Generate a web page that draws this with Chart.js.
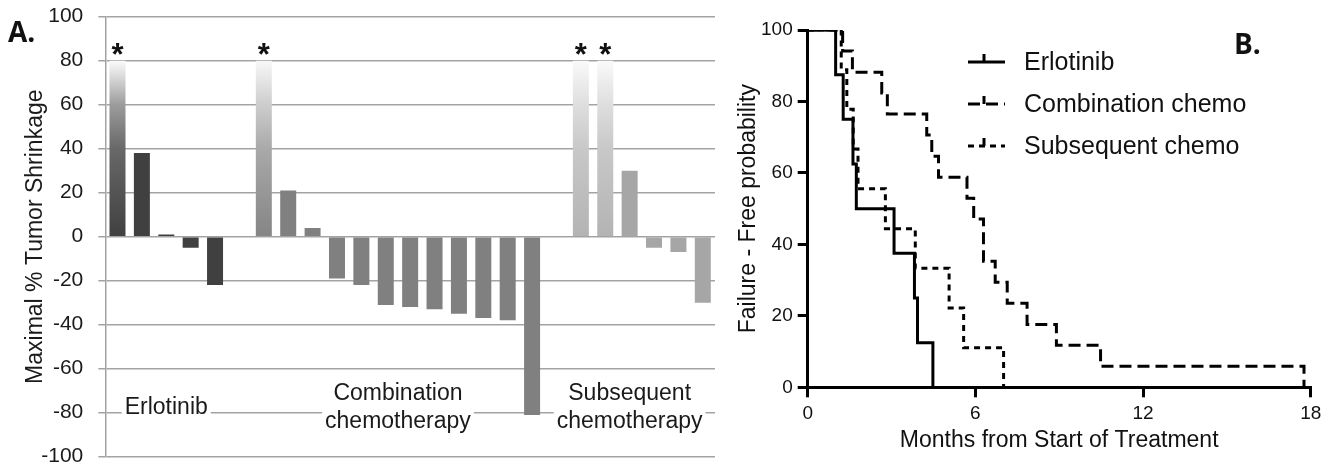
<!DOCTYPE html>
<html>
<head>
<meta charset="utf-8">
<script src="https://cdn.jsdelivr.net/npm/chart.js@4.4.1/dist/chart.umd.min.js"></script>
<style>
  body { margin: 0; background: #fff; }
  #wrap { position: relative; width: 1340px; height: 471px; overflow: hidden; }
  #waterfall { position: absolute; left: 0; top: 0; }
  #survival { position: absolute; left: 720px; top: 0; }
</style>
</head>
<body>
<div id="wrap">
  <canvas id="waterfall" width="720" height="471"></canvas>
  <canvas id="survival" width="620" height="471"></canvas>
</div>
<script>
// ---- Panel A: maximal % tumor shrinkage per patient ----
var erlotinibShrinkage = [80, 38, 1, -5, -22];
var erlotinibStars = [true, false, false, false, false];
var combinationShrinkage = [80, 21, 4, -19, -22, -31, -32, -33, -35, -37, -38, -81];
var combinationStars = [true, false, false, false, false, false, false, false, false, false, false, false];
var subsequentShrinkage = [80, 80, 30, -5, -7, -30];
var subsequentStars = [true, true, false, false, false, false];
var groupNames = [['Erlotinib'], ['Combination', 'chemotherapy'], ['Subsequent', 'chemotherapy']];
var shrinkTicks = [-100, -80, -60, -40, -20, 0, 20, 40, 60, 80, 100];

// ---- Panel B: failure-free probability ----
var monthTicks = [0, 6, 12, 18];
var probTicks = [0, 20, 40, 60, 80, 100];
var erlotinibMonths = [0, 1.0, 1.27, 1.62, 1.74, 3.09, 3.82, 3.93, 4.48];
var erlotinibFree = [100, 87.5, 75, 62.5, 50, 37.5, 25, 12.5, 0];
var combinationMonths = [0, 1.25, 1.6, 2.65, 2.85, 4.26, 4.44, 4.68, 5.7, 5.94, 6.29, 6.71, 7.14, 7.85, 8.9, 10.48, 17.76];
var combinationFree = [100, 94.1, 88.2, 82.4, 76.5, 70.6, 64.7, 58.8, 52.9, 47.1, 35.3, 29.4, 23.5, 17.6, 11.8, 5.9, 0];
var subsequentMonths = [0, 1.2, 1.4, 1.63, 1.8, 2.78, 3.85, 5.06, 5.58, 7.01];
var subsequentFree = [100, 88.9, 77.8, 66.7, 55.6, 44.4, 33.3, 22.2, 11.1, 0];
var survivalLabels = ['Erlotinib', 'Combination chemo', 'Subsequent chemo'];

var FONT = "'Liberation Sans', Arial, sans-serif";

// one empty slot between groups
var barValues = [], barGroup = [], barStar = [];
[[erlotinibShrinkage, erlotinibStars], [combinationShrinkage, combinationStars], [subsequentShrinkage, subsequentStars]]
  .forEach(function (g, gi) {
    if (gi > 0) { barValues.push(null); barGroup.push(-1); barStar.push(false); }
    g[0].forEach(function (v, k) {
      barValues.push(v); barGroup.push(gi); barStar.push(g[1][k]);
    });
  });
var barLabels = barValues.map(function (v, i) { return 'P' + (i + 1); });

var solidColors = ['#404040', '#808080', '#a6a6a6'];
var fadeStops = [
  [[0, '#404040'], [0.5, '#686868'], [0.75, '#9c9c9c'], [0.9, '#d6d6d6'], [1, '#fbfbfb']],
  [[0, '#858585'], [0.5, '#a9a9a9'], [0.75, '#cdcdcd'], [1, '#f8f8f8']],
  [[0, '#b3b3b3'], [0.5, '#c8c8c8'], [0.75, '#dedede'], [1, '#fafafa']]
];

function barFill(c) {
  var i = c.dataIndex, g = barGroup[i];
  if (g < 0) return '#fff';
  if (!barStar[i] || !c.chart.chartArea) return solidColors[g];
  var y = c.chart.scales.y;
  var grad = c.chart.ctx.createLinearGradient(0, y.getPixelForValue(0), 0, y.getPixelForValue(barValues[i]));
  fadeStops[g].forEach(function (s) { grad.addColorStop(s[0], s[1]); });
  return grad;
}

var waterfallDecor = {
  id: 'waterfallDecor',
  beforeDatasetsDraw: function (chart) {
    // group names sit on white boxes that cut the gridlines
    var ctx = chart.ctx, x = chart.scales.x, y = chart.scales.y;
    var anchors = [2, 11.5, 21];
    ctx.save();
    ctx.font = '23px ' + FONT;
    ctx.textAlign = 'center';
    ctx.textBaseline = 'middle';
    groupNames.forEach(function (lines, gi) {
      var cx = x.getPixelForValue(anchors[gi]);
      var cy = y.getPixelForValue(-77.5);
      lines.forEach(function (t, li) {
        var ly = cy + (li - (lines.length - 1) / 2) * 28;
        var w = ctx.measureText(t).width;
        ctx.fillStyle = '#fff';
        ctx.fillRect(cx - w / 2 - 3, ly - 13, w + 6, 26);
        ctx.fillStyle = '#1a1a1a';
        ctx.fillText(t, cx, ly);
      });
    });
    ctx.restore();
  },
  afterDatasetsDraw: function (chart) {
    var ctx = chart.ctx, meta = chart.getDatasetMeta(0);
    ctx.save();
    ctx.font = 'bold 31px ' + FONT;
    ctx.textAlign = 'center';
    ctx.textBaseline = 'alphabetic';
    ctx.fillStyle = '#111';
    barStar.forEach(function (s, i) {
      if (!s) return;
      var bar = meta.data[i];
      ctx.fillText('*', bar.x, bar.y + 4);
    });
    ctx.font = "bold 28px 'Open Sans', " + FONT;
    ctx.textAlign = 'left';
    ctx.textBaseline = 'middle';
    ctx.fillText('A.', 8, 34);
    ctx.restore();
  }
};

new Chart(document.getElementById('waterfall'), {
  type: 'bar',
  data: {
    labels: barLabels,
    datasets: [{
      label: 'Maximal % Tumor Shrinkage',
      data: barValues,
      backgroundColor: barFill,
      borderWidth: 0,
      barPercentage: 0.656,
      categoryPercentage: 1
    }]
  },
  options: {
    responsive: false,
    animation: false,
    layout: { padding: { top: 16.7, right: 5, bottom: 14.3, left: 0 } },
    plugins: { legend: { display: false }, tooltip: { enabled: false } },
    scales: {
      x: { display: false },
      y: {
        min: -100, max: 100,
        afterBuildTicks: function (s) { s.ticks = shrinkTicks.map(function (v) { return { value: v }; }); },
        afterFit: function (s) { s.width = 105.3; s.paddingTop = 0; s.paddingBottom = 0; },
        grid: { color: '#a3a3a3', lineWidth: 1.5, tickLength: 7 },
        border: { color: '#a3a3a3', width: 1.5 },
        ticks: { color: '#1a1a1a', font: { family: FONT, size: 21 }, padding: 15 },
        title: {
          display: true, text: 'Maximal % Tumor Shrinkage', color: '#1a1a1a',
          font: { family: FONT, size: 23 }, padding: { top: 22, bottom: 0 }
        }
      }
    }
  },
  plugins: [waterfallDecor]
});

// ---- Panel B ----
function steps(xs, ys) {
  return xs.map(function (t, i) { return { x: t, y: ys[i] }; });
}

var survivalDash = [[], [12, 6], [6, 5]];

var survivalLegend = {
  id: 'survivalLegend',
  afterDraw: function (chart) {
    var ctx = chart.ctx;
    ctx.save();
    chart.data.datasets.forEach(function (ds, i) {
      var ry = 62 + i * 42;
      ctx.strokeStyle = '#000';
      ctx.lineWidth = 3;
      ctx.setLineDash(ds.borderDash);
      ctx.beginPath();
      ctx.moveTo(248, ry);
      ctx.lineTo(285, ry);
      ctx.stroke();
      ctx.setLineDash([]);
      ctx.beginPath();
      ctx.moveTo(264, ry);
      ctx.lineTo(264, ry - 8);
      ctx.stroke();
      ctx.fillStyle = '#111';
      ctx.font = '25px ' + FONT;
      ctx.textAlign = 'left';
      ctx.textBaseline = 'middle';
      ctx.fillText(ds.label, 304, ry + 1);
    });
    ctx.font = "bold 28px 'Open Sans', " + FONT;
    ctx.fillStyle = '#111';
    ctx.textBaseline = 'middle';
    ctx.fillText('B.', 514, 46);
    ctx.restore();
  }
};

var survivalSets = [
  [erlotinibMonths, erlotinibFree],
  [combinationMonths, combinationFree],
  [subsequentMonths, subsequentFree]
].map(function (s, i) {
  return {
    label: survivalLabels[i],
    data: steps(s[0], s[1]),
    borderColor: '#000',
    borderWidth: 3,
    borderDash: survivalDash[i],
    stepped: true,
    pointRadius: 0,
    fill: false
  };
});

new Chart(document.getElementById('survival'), {
  type: 'line',
  data: { datasets: survivalSets },
  options: {
    responsive: false,
    animation: false,
    layout: { padding: { top: 30, right: 29.3, bottom: 0, left: 0 } },
    plugins: { legend: { display: false }, tooltip: { enabled: false } },
    scales: {
      x: {
        type: 'linear', min: 0, max: 18,
        afterBuildTicks: function (s) { s.ticks = monthTicks.map(function (v) { return { value: v }; }); },
        afterFit: function (s) { s.height = 83.7; },
        grid: { drawOnChartArea: false, color: '#000', lineWidth: 3, tickLength: 10 },
        border: { color: '#000', width: 3 },
        ticks: { color: '#111', font: { family: FONT, size: 19 }, padding: 5, maxRotation: 0 },
        title: {
          display: true, text: 'Months from Start of Treatment', color: '#111',
          font: { family: FONT, size: 23 }, padding: { top: 0, bottom: 17 }
        }
      },
      y: {
        min: 0, max: 100,
        afterBuildTicks: function (s) { s.ticks = probTicks.map(function (v) { return { value: v }; }); },
        afterFit: function (s) { s.width = 87.7; },
        grid: { drawOnChartArea: false, color: '#000', lineWidth: 3, tickLength: 10 },
        border: { color: '#000', width: 3 },
        ticks: { color: '#111', font: { family: FONT, size: 19 }, padding: 5 },
        title: {
          display: true, text: 'Failure - Free probability', color: '#111',
          font: { family: FONT, size: 23 }, padding: { top: 15, bottom: 0 }
        }
      }
    }
  },
  plugins: [survivalLegend]
});
</script>
</body>
</html>
